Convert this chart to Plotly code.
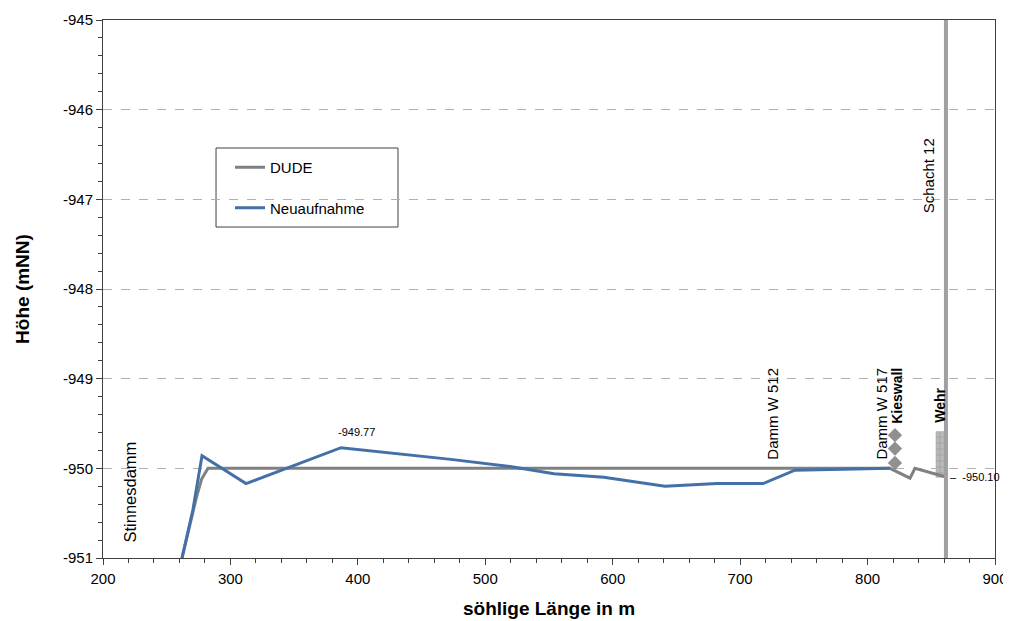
import plotly.graph_objects as go

# Data
neu_x = [262, 270.6, 277.7, 312.2, 386.8, 473, 519.4, 554, 593, 641, 682, 718, 743, 817.6]
neu_y = [-951.0, -950.46, -949.86, -950.17, -949.77, -949.9, -949.98, -950.06, -950.1, -950.2, -950.17, -950.17, -950.02, -950.0]

dude_x = [262, 273.4, 277.4, 282.4, 817.6, 833.3, 837.2, 862.3]
dude_y = [-951.0, -950.32, -950.12, -950.0, -950.0, -950.11, -950.0, -950.1]

kies_x = [821.5, 821.5, 821.5]
kies_y = [-949.63, -949.78, -949.94]

wehr_x = [853.7, 862.5, 862.5, 853.7, 853.7]
wehr_y = [-949.59, -949.59, -950.1, -950.1, -949.59]

schacht_x = 861.5

x_ticks = [200, 300, 400, 500, 600, 700, 800, 900]
x_ticktext = ["200", "300", "400", "500", "600", "700", "800", "900"]
y_ticks = [-951, -950, -949, -948, -947, -946, -945]
y_ticktext = ["-951", "-950", "-949", "-948", "-947", "-946", "-945"]

# text, x, y, bold, font size
labels = [
    ("Stinnesdamm", 221.2, -950.27, False, 16.5),
    ("Damm W 512", 725.8, -949.39, False, 15),
    ("Damm W 517", 811.3, -949.39, False, 15),
    ("Kieswall", 823.2, -949.19, True, 14),
    ("Wehr", 856.2, -949.3, True, 14),
    ("Schacht 12", 847.6, -946.74, False, 15),
]

FONT = "Liberation Sans, Arial, sans-serif"

fig = go.Figure()

fig.add_trace(go.Scatter(
    x=wehr_x, y=wehr_y, mode="lines", fill="toself",
    fillcolor="#b0b0b0", line=dict(color="#a0a0a0", width=0.5),
    fillpattern=dict(shape="+", fgcolor="#8a8a8a", bgcolor="#b8b8b8", size=6, solidity=0.25),
    showlegend=False, hoverinfo="skip"))

fig.add_trace(go.Scatter(
    x=dude_x, y=dude_y, mode="lines", name="DUDE",
    line=dict(color="#808080", width=3), legendgroup="a"))
fig.add_trace(go.Scatter(
    x=neu_x, y=neu_y, mode="lines", name="Neuaufnahme",
    line=dict(color="#4470a8", width=3), legendgroup="b"))

fig.add_trace(go.Scatter(
    x=kies_x, y=kies_y, mode="markers",
    marker=dict(symbol="diamond", size=11, color="#909090"),
    showlegend=False, hoverinfo="skip"))

# Schacht 12 vertical line
fig.add_shape(type="line", x0=schacht_x, x1=schacht_x, y0=0, y1=1, xref="x", yref="paper",
              line=dict(color="#a0a0a0", width=4))

# legend frame
fig.add_shape(type="rect", xref="paper", yref="paper",
              x0=0.1267, x1=0.3307, y0=0.6152, y1=0.7621,
              line=dict(color="#404040", width=1), fillcolor="white", layer="below")

for text, lx, ly, bold, fs in labels:
    fig.add_annotation(x=lx, y=ly, text=f"<b>{text}</b>" if bold else text,
                       textangle=-90, showarrow=False,
                       font=dict(family=FONT, size=fs, color="#000000"))

fig.add_annotation(x=399.3, y=-949.6, text="-949.77", showarrow=False,
                   font=dict(family=FONT, size=11, color="#000000"))
fig.add_annotation(x=863.5, y=-950.1, text="–  -950.10", showarrow=False, xanchor="left",
                   font=dict(family=FONT, size=11, color="#000000"))

# The page body has an 8px margin, so the figure is offset by 8px.
fig.update_layout(
    width=1003, height=613,
    margin=dict(l=95, r=16, t=12, b=63, autoexpand=False),
    paper_bgcolor="white", plot_bgcolor="white",
    font=dict(family=FONT, size=15, color="#000000"),
    legend=dict(x=0.1424, y=0.7565, xanchor="left", yanchor="top",
                borderwidth=0, bgcolor="rgba(0,0,0,0)",
                font=dict(family=FONT, size=15), traceorder="grouped",
                tracegroupgap=18, itemwidth=30),
    xaxis=dict(range=[200, 900], tickvals=x_ticks, ticktext=x_ticktext, automargin=False,
               showgrid=False, zeroline=False,
               showline=True, linecolor="#404040", linewidth=1, mirror=True,
               ticks="outside", ticklen=6, tickcolor="#404040", ticklabelstandoff=1,
               minor=dict(dtick=20, tick0=200, ticks="outside", ticklen=4, tickcolor="#404040"),
               title=dict(text="<b>söhlige Länge in m</b>", font=dict(family=FONT, size=19), standoff=15),
               tickfont=dict(family=FONT, size=15)),
    yaxis=dict(range=[-951, -945], tickvals=y_ticks, ticktext=y_ticktext, automargin=False,
               showgrid=True, gridcolor="#b0b0b0", griddash="dash", gridwidth=1,
               zeroline=False,
               showline=True, linecolor="#404040", linewidth=1, mirror=True,
               ticks="outside", ticklen=6, tickcolor="#404040",
               minor=dict(dtick=0.2, tick0=-951, ticks="outside", ticklen=4, tickcolor="#404040", showgrid=False),
               title=dict(text="<b>Höhe (mNN)</b>", font=dict(family=FONT, size=19), standoff=28),
               tickfont=dict(family=FONT, size=15)),
)

fig.write_html("out.html")
